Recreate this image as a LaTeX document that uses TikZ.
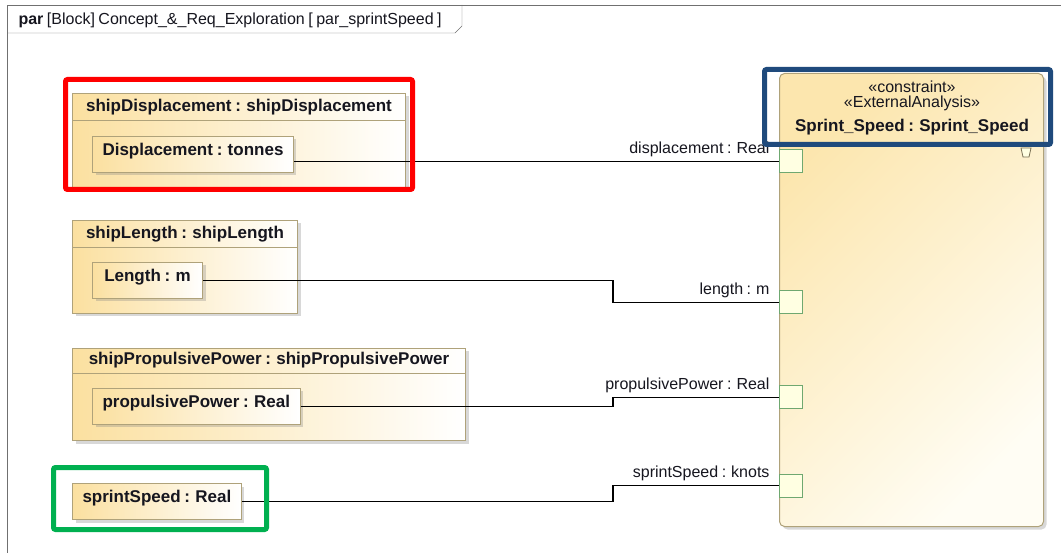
\documentclass[tikz,border=0pt]{standalone}
\usepackage{fontspec}
\setmainfont{Liberation Sans}
\usetikzlibrary{shadows,calc}
\definecolor{frm}{HTML}{707070}
\definecolor{blkline}{HTML}{AFA27A}
\definecolor{blkfill}{HTML}{FBE0A0}
\definecolor{cfill}{HTML}{FCE6AE}
\definecolor{cend}{HTML}{FFFDF4}
\definecolor{portline}{HTML}{6FA870}
\definecolor{portfill}{HTML}{FFFFE2}
\definecolor{txt}{HTML}{16161F}
\definecolor{hlred}{HTML}{FF0000}
\definecolor{hlblue}{HTML}{1F4A7C}
\definecolor{hlgreen}{HTML}{00B050}
\newcommand\tightsp{\spaceskip 0.22em\relax}
\tikzset{
  blk/.style={draw=blkline, line width=1pt, left color=blkfill, right color=white, anchor=north west, inner sep=0,
    drop shadow={shadow xshift=3pt, shadow yshift=-3pt, opacity=0.3}},
  val/.style={blk, font={\fontsize{17}{20}\bfseries\tightsp}, inner xsep=10pt, inner ysep=0pt, text height=19pt, text depth=17pt},
  hdr/.style={font={\fontsize{17}{20}\bfseries\tightsp}},
  port/.style={draw=portline, fill=portfill, line width=1pt, minimum size=23pt, inner sep=0, anchor=west},
  plab/.style={anchor=base east},
  hl/.style={line width=5pt, rounded corners=2pt},
  wire/.style={line width=1.1pt, black}
}
\begin{document}
\begin{tikzpicture}[x=1pt,y=-1pt,font={\fontsize{16}{19}\selectfont\tightsp},text=txt]
\useasboundingbox (0,0) rectangle (1061,553);
\fill[white] (0,0) rectangle (1061,553);
% frame and its tab
\draw[frm] (7,553) -- (7,5) -- (1061,5);
\draw[frm] (7,33) -- (455,33) -- (462,26) -- (462,5);
\node[anchor=base west] (ttl) at (15,25) {\textbf{par} [Block] Concept\_\&\_Req\_Exploration [ par\_sprintSpeed ]};

% part blocks
\node[blk, minimum width=333pt, minimum height=95pt] (dispBlk) at (72,93) {};
\draw[blkline] ([yshift=-27pt]dispBlk.north west) -- ([yshift=-27pt]dispBlk.north east);
\node[hdr] at ([yshift=-14pt]dispBlk.north) {shipDisplacement : shipDisplacement};
\node[val] (disp) at (92,136) {Displacement : tonnes};

\node[blk, minimum width=225pt, minimum height=93pt] (lenBlk) at (72,220) {};
\draw[blkline] ([yshift=-27pt]lenBlk.north west) -- ([yshift=-27pt]lenBlk.north east);
\node[hdr] at ([yshift=-14pt]lenBlk.north) {shipLength : shipLength};
\node[val, minimum width=110pt] (len) at (92,262) {Length : m};

\node[blk, minimum width=393pt, minimum height=92pt] (propBlk) at (72,348) {};
\draw[blkline] ([yshift=-25pt]propBlk.north west) -- ([yshift=-25pt]propBlk.north east);
\node[hdr] at ([yshift=-12.5pt]propBlk.north) {shipPropulsivePower : shipPropulsivePower};
\node[val] (prop) at (92,388) {propulsivePower : Real};

\node[val] (sprint) at (72,483) {sprintSpeed : Real};

% constraint block
\node[blk, rounded corners=5pt, minimum width=264pt, minimum height=453pt, top color=cfill, bottom color=cend, shading angle=45] (sprintC) at (779,73) {};
\node (st1) at (912,87) {«constraint»};
\node (st2) at (912,103) {«ExternalAnalysis»};
\node[hdr] (cname) at (912,127) {Sprint\_Speed : Sprint\_Speed};
\draw[blkline!70!black, fill=portfill, line width=0.8pt] (1021,148) -- (1031,148) -- (1029,157) -- (1023,157) -- cycle;

% ports
\node[port] (dispPort) at (779,161.5) {};
\node[port] (lenPort) at (779,302.5) {};
\node[port] (propPort) at (779,397.5) {};
\node[port] (sprintPort) at (779,485.5) {};
\node[plab] at ([xshift=-6pt,yshift=8pt]dispPort.west) {displacement : Real};
\node[plab] at ([xshift=-6pt,yshift=8pt]lenPort.west) {length : m};
\node[plab] at ([xshift=-6pt,yshift=8pt]propPort.west) {propulsivePower : Real};
\node[plab] at ([xshift=-6pt,yshift=8pt]sprintPort.west) {sprintSpeed : knots};

% binding connectors
\coordinate (bend) at (613,0);
\draw[wire] (disp.east |- dispPort.west) -- (dispPort.west);
\draw[wire] (len.east) -| (bend |- lenPort.west) -- (lenPort.west);
\draw[wire] (prop.east) -| (bend |- propPort.west) -- (propPort.west);
\draw[wire] (sprint.east) -| (bend |- sprintPort.west) -- (sprintPort.west);

% highlights
\draw[hl, hlred] (65.5,79.5) rectangle (412.5,189.5);
\draw[hl, hlblue] (764.5,69.5) rectangle (1050.5,144.5);
\draw[hl, hlgreen] (53.5,467.5) rectangle (266.5,529.5);
\end{tikzpicture}
\end{document}
